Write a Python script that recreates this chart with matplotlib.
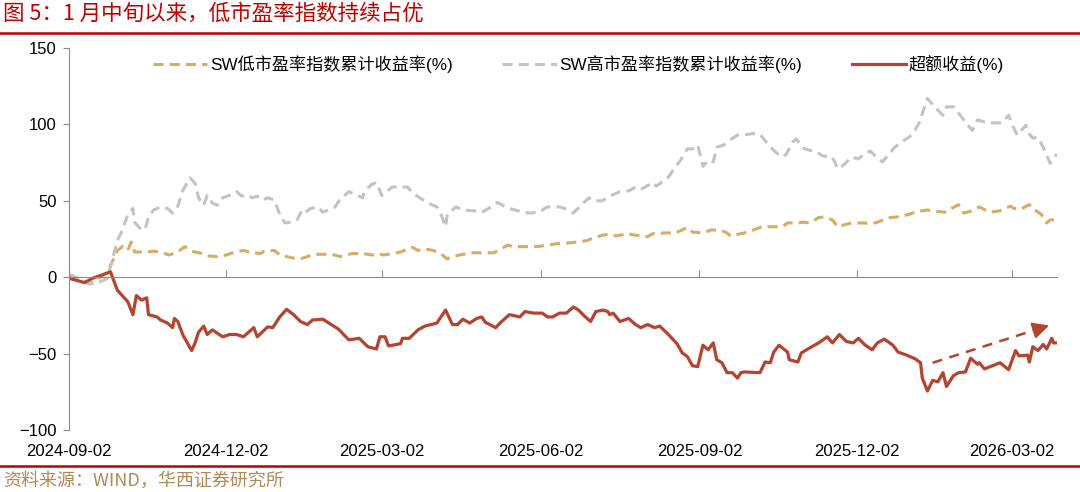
import numpy as np
import pandas as pd
import matplotlib.pyplot as plt
import matplotlib.dates as mdates
from matplotlib.lines import Line2D

plt.rcParams['font.family'] = ['Liberation Sans', 'Noto Sans CJK SC', 'DejaVu Sans']

# Data: days since 2024-09-02 and cumulative returns (%)
base_date = pd.Timestamp('2024-09-02')

low_days = [0, 12, 22, 25, 28, 31, 34, 36, 38, 40, 44, 49, 53, 58, 63, 67, 71, 77, 80, 86,
            91, 96, 101, 106, 111, 113, 119, 122, 130, 134, 138, 142, 152, 157, 164, 170, 176, 179, 182, 190,
            193, 199, 202, 206, 211, 215, 219, 222, 228, 234, 240, 246, 250, 254, 257, 265, 271, 277, 283, 290,
            294, 300, 303, 309, 312, 317, 323, 328, 335, 338, 346, 351, 358, 361, 367, 372, 378, 381, 383, 389,
            393, 401, 408, 413, 416, 422, 425, 429, 434, 437, 442, 445, 448, 453, 460, 465, 468, 475, 480, 486,
            491, 497, 500, 507, 511, 515, 518, 523, 527, 533, 539, 545, 547, 551, 556, 558, 563, 566, 568, 572]
low_ret = [1, -4.5, 3, 10, 17.5, 20, 17.5, 23, 16.5, 16.5, 16.5, 17, 16.5, 14.5, 16.5, 20, 17, 15.5, 14, 13.5,
           14.5, 16.5, 17.5, 16, 15.5, 17, 17.5, 14.5, 12.5, 12, 13.5, 15, 15, 13.5, 15.5, 15.5, 14.5, 15.5, 14.5, 16,
           17, 19.5, 17.5, 18.5, 17.5, 15.5, 12, 13.5, 15, 16, 16, 16, 18.5, 21, 20, 20, 20, 21, 22, 22.5,
           23, 24, 25.5, 27.5, 28, 27, 28.5, 27.5, 26.5, 28.5, 29, 29, 32.5, 29.5, 29, 31, 30.5, 29, 27, 28.5,
           29.5, 33, 33, 33, 35.5, 35.5, 36, 35.5, 39, 39.5, 37.5, 33, 34, 35.5, 35.5, 35, 36, 39, 39.5, 41,
           43, 44, 43.5, 42.5, 45, 47.5, 42, 43.5, 46, 42.5, 43.5, 46.5, 45, 44.5, 47.5, 45, 41, 35.5, 37.5, 37.5]

high_days = [0, 2, 12, 18, 22, 25, 28, 31, 34, 37, 38, 41, 44, 46, 49, 53, 57, 60, 63, 66,
             70, 73, 75, 78, 80, 83, 86, 89, 94, 97, 100, 103, 106, 109, 112, 115, 119, 122, 125, 128,
             132, 135, 137, 140, 144, 147, 154, 157, 162, 164, 170, 171, 175, 178, 181, 184, 187, 191, 196, 199,
             205, 208, 213, 216, 218, 219, 224, 228, 234, 239, 246, 248, 252, 255, 263, 267, 272, 277, 284, 287,
             292, 296, 301, 303, 309, 312, 319, 324, 329, 332, 338, 340, 347, 351, 354, 358, 361, 364, 367, 370,
             373, 375, 379, 383, 387, 390, 396, 400, 404, 408, 412, 415, 419, 421, 425, 429, 433, 436, 442, 445,
             448, 453, 457, 461, 464, 468, 471, 475, 478, 484, 488, 492, 494, 497, 500, 502, 506, 508, 512, 516,
             519, 523, 526, 530, 534, 540, 544, 547, 549, 554, 555, 558, 561, 564, 568, 570, 572]
high_ret = [1.5, 1, -4.5, -3, -1, 11, 24, 31, 41, 45, 36, 32, 31, 39.5, 44, 46, 45, 42, 46.5, 57,
            65, 61.5, 52, 47, 53.5, 48.5, 47, 52, 54, 56, 53, 54, 52, 53, 50.5, 52, 50.5, 41, 35.5, 36,
            37.5, 44, 42.5, 45, 46, 42.5, 46, 51, 56, 55, 52, 56, 60.5, 62, 53.5, 56, 59, 59, 59, 55,
            50.5, 48.5, 46, 39.5, 33, 41, 46, 44, 43.5, 42.5, 47, 49, 46.5, 45, 42.5, 42, 42.5, 46, 46, 45,
            42, 46.5, 52, 50, 50, 52.5, 56, 56.5, 59.5, 58, 62, 59.5, 65.5, 72, 76.5, 84, 84, 86.5, 72.5, 76.5,
            75.5, 85, 86.5, 90, 93, 93, 94, 93.5, 88, 83, 79, 80, 88.5, 90.5, 84.5, 83, 82, 79.5, 78.5, 71,
            73, 78.5, 77.5, 81, 82.5, 78, 75.5, 81, 85, 90, 93, 100.5, 107, 117, 113, 110.5, 106, 111.5, 111.5, 106,
            101.5, 96, 103, 101.5, 101, 101, 106, 97.5, 93, 99.5, 95, 91, 91.5, 85, 74.5, 78, 80.5]

excess_days = [0, 1, 9, 14, 18, 24, 28, 34, 37, 39, 42, 45, 46, 51, 53, 57, 60, 61, 63, 66,
               71, 73, 75, 78, 80, 83, 89, 93, 97, 101, 107, 109, 115, 118, 122, 126, 130, 134, 138, 141,
               147, 156, 162, 168, 173, 178, 180, 183, 185, 192, 193, 197, 202, 206, 213, 218, 222, 225, 228, 232,
               236, 239, 241, 247, 250, 255, 261, 264, 269, 274, 277, 280, 284, 288, 292, 295, 298, 302, 305, 309,
               312, 313, 315, 319, 324, 328, 331, 335, 339, 342, 347, 352, 355, 358, 361, 364, 367, 370, 373, 375,
               378, 381, 384, 387, 389, 391, 400, 403, 406, 408, 411, 416, 417, 422, 424, 430, 434, 439, 442, 446,
               450, 454, 457, 461, 465, 468, 472, 477, 480, 485, 490, 493, 494, 497, 500, 503, 506, 508, 512, 515,
               519, 522, 526, 527, 530, 539, 544, 548, 550, 555, 556, 558, 561, 564, 566, 569, 570, 572]
excess_ret = [0, -1, -3.5, -0.5, 1, 3.5, -8.5, -16, -24.5, -12, -15, -13.5, -24.5, -26, -28, -30, -33, -27, -29, -38,
              -48, -43, -36, -32, -37.5, -34.5, -39, -37.5, -37.5, -39, -33, -39, -32.5, -33, -26, -21, -24.5, -29, -31, -28,
              -27.5, -34, -41, -40, -45.5, -47, -39, -39, -45, -43.5, -40, -40, -34.5, -32, -30, -21.5, -31, -31, -27.5, -30,
              -27, -26, -29.5, -33, -29.5, -24.5, -26, -22.5, -23.5, -23.5, -26, -26, -23.5, -23.5, -19.5, -21.5, -25, -29, -22.5, -21.5,
              -22.5, -24.5, -23.5, -29, -27, -31, -33, -31, -33, -32, -37.5, -43.5, -49.5, -52, -58, -58.5, -44.5, -47.5, -43, -54,
              -56, -62.5, -62.5, -66, -62.5, -62, -62.5, -55.5, -56, -49, -44.5, -49, -54, -55.5, -49.5, -45.5, -43, -39, -43, -37.5,
              -42, -43, -40, -44.5, -47.5, -43, -40.5, -44.5, -49, -51, -53.5, -56, -66, -74.5, -67.5, -68.5, -62.5, -71.5, -64.5, -62.5,
              -62, -53, -57, -56, -60, -56, -60.5, -48, -51.5, -51, -55.5, -45.5, -48, -44, -47, -40, -43, -43]

# trend arrow (days, value)
arrow_days = [500, 569]
arrow_vals = [-56, -31]

tick_dates = ['2024-09-02', '2024-12-02', '2025-03-02', '2025-06-02',
              '2025-09-02', '2025-12-02', '2026-03-02']

low_label = 'SW低市盈率指数累计收益率(%)'
high_label = 'SW高市盈率指数累计收益率(%)'
excess_label = '超额收益(%)'

GOLD = '#D6AC67'
GRAY = '#C3C3C3'
RED = '#B4432F'
TITLE_RED = '#C00000'


def to_dates(days):
    return base_date + pd.to_timedelta(days, unit='D')


fig = plt.figure(figsize=(10.8, 4.92), dpi=100)
ax = fig.add_axes([69 / 1080, 1 - 430 / 492, (1057 - 69) / 1080, (430 - 48) / 492])

dash = (0, (3.3, 2.0))
ax.plot(to_dates(low_days), low_ret, color=GOLD, lw=2.2, linestyle=dash, label=low_label)
ax.plot(to_dates(high_days), high_ret, color=GRAY, lw=2.2, linestyle=dash, label=high_label)
ax.plot(to_dates(excess_days), excess_ret, color=RED, lw=2.3, label=excess_label)

# dashed trend arrow
ad = to_dates(arrow_days)
frac = 0.86
mid_x = ad[0] + (ad[1] - ad[0]) * frac
mid_y = arrow_vals[0] + (arrow_vals[1] - arrow_vals[0]) * frac
ax.plot([ad[0], mid_x], [arrow_vals[0], mid_y], color=RED, lw=1.8, linestyle=(0, (4, 3)))
ax.annotate('', xy=(ad[1], arrow_vals[1]), xytext=(mid_x, mid_y),
            arrowprops=dict(arrowstyle='-|>', color=RED, lw=1.5, mutation_scale=25))

ax.set_ylim(-100, 150)
ax.set_yticks([-100, -50, 0, 50, 100, 150])
ax.set_xlim(base_date, to_dates([572])[0])
ax.set_xticks(pd.to_datetime(tick_dates))
ax.xaxis.set_major_formatter(mdates.DateFormatter('%Y-%m-%d'))

for s in ['top', 'right']:
    ax.spines[s].set_visible(False)
ax.spines['left'].set_color('#8C8C8C')
ax.spines['bottom'].set_color('#8C8C8C')
ax.spines['bottom'].set_position(('data', 0))
ax.tick_params(axis='y', direction='out', length=4, color='#8C8C8C', labelsize=12, pad=5)
ax.tick_params(axis='x', direction='in', length=5, color='#8C8C8C', labelsize=12, pad=120)

leg = ax.legend(loc='center', bbox_to_anchor=(0.5157, 0.958), ncol=3, frameon=False,
                handlelength=3.2, columnspacing=2.9, handletextpad=0.15,
                prop={'family': ['Liberation Sans', 'Noto Sans CJK SC'], 'size': 12.3})

fig.text(0.003, 1 - 14 / 492, '图 5：1 月中旬以来，低市盈率指数持续占优', color=TITLE_RED,
         fontsize=15.5, va='center', ha='left', family=['Noto Sans CJK SC', 'DejaVu Sans'])
fig.add_artist(Line2D([0, 1], [1 - 33 / 492] * 2, color=TITLE_RED, lw=1.8))
fig.add_artist(Line2D([0, 1], [1 - 466 / 492] * 2, color=TITLE_RED, lw=1.8))
fig.text(0.003, 1 - 481 / 492, '资料来源：WIND，华西证券研究所', color='#B08A55',
         fontsize=13, va='center', ha='left', family=['Noto Sans CJK SC', 'DejaVu Sans'])

fig.savefig('out.png', dpi=100, facecolor='white')
